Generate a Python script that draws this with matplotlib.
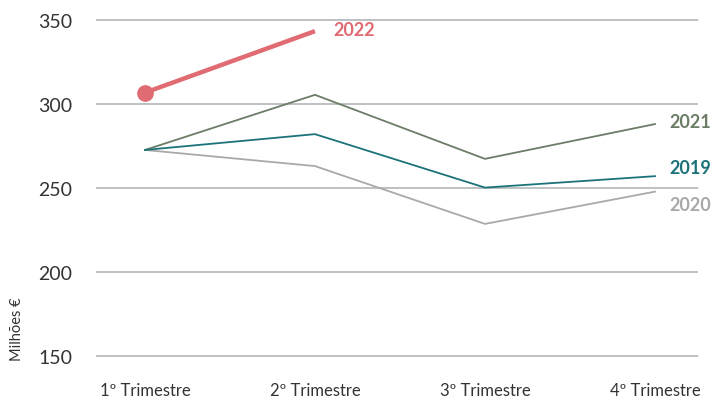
import matplotlib
matplotlib.use("Agg")
import matplotlib.pyplot as plt

quarters = ["1º Trimestre", "2º Trimestre", "3º Trimestre", "4º Trimestre"]
v2019 = [272.6, 282.0, 250.2, 257.0]
v2020 = [272.6, 263.0, 228.6, 247.8]
v2021 = [272.6, 305.4, 267.3, 288.0]
v2022 = [306.7, 343.3]
yticks = [150, 200, 250, 300, 350]

C2019 = "#1b7379"
C2020 = "#a9a9a9"
C2021 = "#6b7d66"
C2022 = "#e06b72"
GRID = "#b9bcbe"
TXT = "#333333"

plt.rcParams["font.family"] = ["Lato", "DejaVu Sans"]

fig = plt.figure(figsize=(7.23, 4.02), dpi=100)
ax = fig.add_axes([96 / 723, 0.091, (698 - 96) / 723, 0.878])

x = list(range(len(quarters)))
for yv in yticks:
    ax.axhline(yv, color=GRID, lw=1.3, zorder=1)

ax.plot(x, v2020, color=C2020, lw=1.3, zorder=2)
ax.plot(x, v2021, color=C2021, lw=1.3, zorder=3)
ax.plot(x, v2019, color=C2019, lw=1.3, zorder=4)
ax.plot(x[:len(v2022)], v2022, color=C2022, lw=3.2, zorder=5,
        solid_capstyle="butt")
ax.plot([x[0]], [v2022[0]], "o", color=C2022, ms=11, zorder=6)

lab = dict(fontsize=13, fontweight="bold", va="center", ha="left",
           textcoords="offset points")
ax.annotate("2022", (x[1], v2022[1]), xytext=(13, 1), color=C2022, **lab)
ax.annotate("2021", (x[3], v2021[3]), xytext=(10, 2), color=C2021, **lab)
ax.annotate("2019", (x[3], v2019[3]), xytext=(10, 6), color=C2019, **lab)
ax.annotate("2020", (x[3], v2020[3]), xytext=(10, -9), color=C2020, **lab)

ax.set_xlim(-0.288, 3.253)
ax.set_ylim(145, 355)
ax.set_xticks(x)
ax.set_xticklabels(quarters, fontsize=12, color=TXT)
ax.set_yticks(yticks)
ax.set_yticklabels([str(t) for t in yticks], fontsize=14, color=TXT)
ax.tick_params(axis="both", length=0)
ax.tick_params(axis="x", pad=13)
ax.tick_params(axis="y", pad=17)
for s in ax.spines.values():
    s.set_visible(False)

fig.text(0.024, 0.18, "Milhões €", rotation=90, fontsize=10.5, color=TXT,
         ha="center", va="center")

fig.savefig("out.png", dpi=100)
